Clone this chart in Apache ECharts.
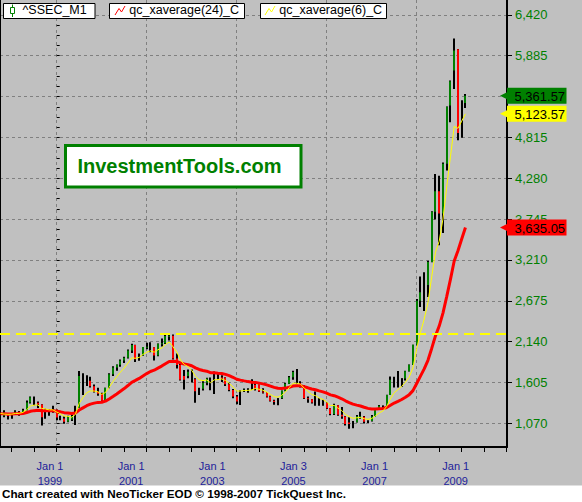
<!DOCTYPE html>
<html><head><meta charset="utf-8">
<script src="https://cdn.jsdelivr.net/npm/echarts@6/dist/echarts.min.js"></script>
<style>html,body{margin:0;padding:0;background:#fff}#c{width:582px;height:502px}</style>
</head><body><div id="c"></div>
<script>
// ---------- data ----------
const months = [
 '1997-09','1997-10','1997-11','1997-12',
 '1998-01','1998-02','1998-03','1998-04','1998-05','1998-06','1998-07','1998-08','1998-09','1998-10','1998-11','1998-12',
 '1999-01','1999-02','1999-03','1999-04','1999-05','1999-06','1999-07','1999-08','1999-09','1999-10','1999-11','1999-12',
 '2000-01','2000-02','2000-03','2000-04','2000-05','2000-06','2000-07','2000-08','2000-09','2000-10','2000-11','2000-12',
 '2001-01','2001-02','2001-03','2001-04','2001-05','2001-06','2001-07','2001-08','2001-09','2001-10','2001-11','2001-12',
 '2002-01','2002-02','2002-03','2002-04','2002-05','2002-06','2002-07','2002-08','2002-09','2002-10','2002-11','2002-12',
 '2003-01','2003-02','2003-03','2003-04','2003-05','2003-06','2003-07','2003-08','2003-09','2003-10','2003-11','2003-12',
 '2004-01','2004-02','2004-03','2004-04','2004-05','2004-06','2004-07','2004-08','2004-09','2004-10','2004-11','2004-12',
 '2005-01','2005-02','2005-03','2005-04','2005-05','2005-06','2005-07','2005-08','2005-09','2005-10','2005-11','2005-12',
 '2006-01','2006-02','2006-03','2006-04','2006-05','2006-06','2006-07','2006-08','2006-09','2006-10','2006-11','2006-12',
 '2007-01','2007-02','2007-03','2007-04','2007-05','2007-06','2007-07','2007-08','2007-09','2007-10','2007-11','2007-12',
 '2008-01'
];
const opens = [
 1150,1220,1170,1180,
 1194,1222,1206,1243,1343,1411,1339,1316,1150,1242,1217,1247,
 1144,1134,1090,1158,1120,1279,1689,1601,1627,1556,1486,1459,
 1368,1535,1714,1800,1836,1894,1928,2023,2096,1910,1961,2070,
 2073,2065,1959,2112,2119,2214,2218,1920,1834,1642,1689,1747,
 1646,1491,1524,1603,1657,1515,1732,1653,1670,1581,1507,1421,
 1357,1499,1511,1510,1521,1576,1486,1476,1421,1367,1348,1397,
 1497,1590,1675,1741,1595,1555,1399,1386,1342,1396,1320,1340,
 1266,1191,1306,1181,1159,1060,1080,1083,1162,1155,1092,1099,
 1161,1258,1299,1298,1440,1641,1672,1612,1658,1752,1837,2099,
 2675,2786,2881,3183,3841,4109,3820,4471,5234,5692,5970,4868,
 5265
];
const highs = [
 1215,1240,1190,1200,
 1240,1232,1262,1370,1421,1423,1355,1320,1260,1253,1300,1250,
 1170,1160,1170,1180,1300,1756,1725,1700,1680,1580,1535,1470,
 1535,1725,1818,1839,1905,1941,2038,2114,2100,1985,2071,2125,
 2132,2067,2117,2180,2232,2245,2233,1985,1860,1770,1776,1776,
 1660,1537,1620,1666,1670,1748,1740,1700,1672,1600,1520,1440,
 1500,1525,1530,1649,1600,1580,1530,1480,1430,1380,1400,1500,
 1600,1690,1760,1783,1620,1570,1420,1390,1488,1400,1380,1345,
 1270,1327,1310,1285,1165,1150,1100,1180,1223,1165,1110,1180,
 1260,1310,1305,1445,1685,1680,1757,1660,1760,1840,2100,2698,
 2994,3049,3200,3849,4335,4312,4486,5219,5562,6110,5972,5303,
 5385
];
const lows = [
 1125,1150,1120,1130,
 1180,1170,1195,1240,1330,1306,1270,1043,1130,1170,1210,1110,
 1110,1064,1085,1100,1048,1275,1440,1560,1540,1475,1430,1341,
 1361,1530,1690,1760,1810,1860,1920,1990,1875,1890,1955,2040,
 2000,1893,1950,2075,2110,2155,1907,1788,1630,1514,1660,1606,
 1339,1440,1500,1570,1502,1455,1640,1610,1560,1490,1400,1320,
 1311,1480,1470,1505,1500,1480,1460,1410,1355,1315,1307,1390,
 1490,1585,1640,1590,1540,1390,1340,1329,1300,1300,1300,1259,
 1177,1180,1170,1130,1043,998,1004,1080,1130,1067,1074,1095,
 1160,1255,1260,1296,1440,1540,1540,1550,1630,1750,1835,2090,
 2593,2541,2724,3180,3740,3404,3563,4381,5015,5450,4778,4812,
 5201
];
const closes = [
 1200,1170,1180,1194,
 1222,1206,1243,1343,1411,1339,1316,1150,1242,1217,1247,1146,
 1134,1090,1158,1120,1279,1689,1601,1627,1556,1486,1459,1366,
 1535,1714,1800,1836,1894,1928,2023,2096,1910,1961,2070,2073,
 2065,1959,2112,2119,2214,2218,1920,1834,1642,1689,1747,1646,
 1491,1524,1603,1657,1515,1732,1653,1670,1581,1507,1421,1357,
 1499,1511,1510,1521,1576,1486,1476,1421,1367,1348,1397,1497,
 1590,1675,1741,1595,1555,1399,1386,1342,1396,1320,1340,1266,
 1191,1306,1181,1159,1060,1080,1083,1162,1155,1092,1099,1161,
 1258,1299,1298,1440,1641,1672,1612,1658,1752,1837,2099,2675,
 2786,2881,3183,3841,4109,3820,4471,5218,5552,5954.77,4871.78,5261.56,
 5361.57
];
const xavg24 = [
 1196.0,1193.9,1192.8,1192.9,
 1195.2,1196.1,1199.9,1211.3,1227.3,1236.2,1242.6,1235.2,1235.7,1234.2,1235.2,1228.1,
 1220.5,1210.1,1205.9,1199.0,1205.4,1244.1,1272.6,1300.9,1321.3,1334.5,1344.4,1346.1,
 1361.0,1389.2,1422.1,1455.2,1490.3,1525.3,1565.1,1607.6,1631.8,1658.1,1691.1,1721.7,
 1749.2,1766.0,1793.7,1819.7,1851.2,1880.5,1883.7,1879.7,1860.7,1847.0,1839.0,1823.6,
 1797.0,1775.2,1761.4,1753.0,1734.0,1733.8,1727.3,1722.7,1711.4,1695.0,1673.1,1647.8,
 1635.9,1625.9,1616.6,1609.0,1606.4,1596.8,1587.1,1573.8,1557.3,1540.6,1529.1,1526.5,
 1531.6,1543.1,1558.9,1561.8,1561.3,1548.3,1535.3,1519.8,1509.9,1494.7,1482.3,1465.0,
 1443.1,1432.1,1412.0,1391.8,1365.3,1342.5,1321.7,1308.9,1296.6,1280.2,1265.7,1257.3,
 1257.4,1260.7,1263.7,1277.8,1306.9,1336.1,1358.2,1382.2,1411.8,1445.8,1498.1,1592.3,
 1687.8,1783.3,1895.3,2051.0,2215.6,2344.0,2514.2,2730.5,2956.2,3196.0,3330.0,3484.5,
 3635.05
];
const xavg6 = [
 1200.0,1191.4,1188.1,1189.8,
 1199.0,1201.0,1213.0,1250.1,1296.1,1308.4,1310.6,1264.7,1258.2,1246.4,1246.6,1217.9,
 1193.9,1164.2,1162.4,1150.3,1187.1,1330.5,1407.8,1470.4,1494.9,1492.4,1482.9,1449.5,
 1473.9,1542.5,1616.1,1678.9,1740.4,1794.0,1859.4,1927.0,1922.1,1933.2,1972.3,2001.1,
 2019.4,2002.1,2033.5,2057.9,2102.5,2135.5,2073.9,2005.4,1901.6,1840.9,1814.1,1766.1,
 1687.5,1640.8,1630.0,1637.7,1602.6,1639.6,1643.4,1651.0,1631.0,1595.6,1545.7,1491.8,
 1493.9,1498.8,1502.0,1507.4,1527.0,1515.3,1504.1,1480.4,1448.0,1419.4,1413.0,1437.0,
 1480.7,1536.2,1594.7,1594.8,1583.4,1530.7,1489.4,1447.3,1432.6,1400.4,1383.1,1349.6,
 1304.3,1304.8,1269.4,1237.9,1187.1,1156.5,1135.5,1143.1,1146.5,1130.9,1121.8,1133.0,
 1168.7,1205.9,1232.2,1291.6,1391.4,1471.6,1511.7,1553.5,1610.2,1675.0,1796.1,2047.2,
 2258.3,2436.2,2649.6,2990.0,3309.7,3455.5,3745.6,4166.3,4562.2,4959.9,4934.5,5027.8,
 5123.57
];
const priceTicks = [1070,1605,2140,2675,3210,3745,4280,4815,5350,5885,6420];
const yearTicks = [1999,2001,2003,2005,2007,2009];
const yearTickLabels = ['Jan 1\n1999','Jan 1\n2001','Jan 1\n2003','Jan 3\n2005','Jan 1\n2007','Jan 1\n2009'];
const priorHigh = 2245.44;
const seriesNames = ['^SSEC_M1','qc_xaverage(24)_C','qc_xaverage(6)_C'];
const watermark = 'InvestmentTools.com';
const footer = 'Chart created with NeoTicker EOD \u00A9 1998-2007 TickQuest Inc.';

// ---------- layout / style ----------
const FONT = '"Liberation Sans", Arial, sans-serif';
const GREEN = '#008000', RED = '#FF0000', YELLOW = '#FFFF00', GRIDC = '#808080';
const X_MIN = -15.12, X_MAX = 120.08;     // months from Jan 1999
const Y_MIN = 760, Y_MAX = 6615;
const LBL_MIN = 1997.768, LBL_MAX = 2010.264;

function monthPos(s) { const p = s.split('-').map(Number); return (p[0] - 1999) * 12 + p[1]; }
const xs = months.map(monthPos);

const lastClose = closes[closes.length - 1];
const halfYearTicks = []; for (let v = -12; v <= 120; v += 6) halfYearTicks.push(v);
const gridMonths = [0, 24, 48, 72, 96];
const minorStep = (priceTicks[1] - priceTicks[0]) / 4;
const minorTicks = []; for (let v = priceTicks[0] - 2 * minorStep; v < Y_MAX; v += minorStep) minorTicks.push(v);
// the label that sits fully under the last-price tag is hidden, as in the reference
const labelTicks = priceTicks.filter(v => Math.abs(v - lastClose) > 60);

function fmt(v, d) { return v.toLocaleString('en-US', {minimumFractionDigits: d, maximumFractionDigits: d}); }

const chart = echarts.init(document.getElementById('c'), null, {renderer: 'svg'});

const option = {
  animation: false,
  backgroundColor: '#C0C0C0',
  grid: {left: 0, right: 75, top: 0, bottom: 55, containLabel: false},
  xAxis: [
    { type: 'value', min: X_MIN, max: X_MAX, position: 'bottom',
      axisLine: {show: true, onZero: false, lineStyle: {color: '#000', width: 2}},
      axisTick: {show: true, customValues: halfYearTicks, length: 5, lineStyle: {color: '#000', width: 1}},
      axisLabel: {show: false}, splitLine: {show: false} },
    { type: 'value', min: LBL_MIN, max: LBL_MAX, position: 'bottom',
      axisLine: {show: false}, axisTick: {show: false}, splitLine: {show: false},
      axisLabel: {show: true, customValues: yearTicks, margin: 11, color: '#22229A', fontSize: 11,
        lineHeight: 15, fontFamily: FONT,
        formatter: v => yearTickLabels[yearTicks.indexOf(v)]} },
    { type: 'value', min: X_MIN, max: X_MAX, position: 'bottom',
      axisLine: {show: false}, axisLabel: {show: false},
      axisTick: {show: false, customValues: gridMonths},
      splitLine: {show: true, lineStyle: {color: GRIDC, width: 1, type: [3, 3]}} }
  ],
  yAxis: [
    { type: 'value', min: Y_MIN, max: Y_MAX, position: 'right',
      axisLine: {show: true, onZero: false, lineStyle: {color: '#000', width: 2}},
      axisTick: {show: true, customValues: priceTicks, length: 5, lineStyle: {color: '#000'}},
      axisLabel: {show: true, customValues: labelTicks, margin: 8, color: GREEN, fontSize: 13, fontFamily: FONT,
        formatter: v => fmt(v, 0)},
      splitLine: {show: true, lineStyle: {color: GRIDC, width: 1, type: [3, 3]}} },
    { type: 'value', min: Y_MIN, max: Y_MAX, position: 'right',
      axisLine: {show: false}, axisLabel: {show: false}, splitLine: {show: false},
      axisTick: {show: true, customValues: minorTicks, length: 3, lineStyle: {color: '#000'}} },
    { type: 'value', min: Y_MIN, max: Y_MAX, position: 'left',
      axisLine: {show: true, onZero: false, lineStyle: {color: '#000', width: 1}},
      axisTick: {show: false}, axisLabel: {show: false}, splitLine: {show: false} }
  ],
  series: [
    { name: seriesNames[0], type: 'custom', xAxisIndex: 0, yAxisIndex: 0, clip: true,
      data: months.map((m, i) => [xs[i], opens[i], highs[i], lows[i], closes[i]]),
      encode: {x: 0, y: [1, 2, 3, 4]},
      renderItem: (params, api) => {
        const i = params.dataIndex;
        const x = api.value(0);
        const pH = api.coord([x, api.value(2)]);
        const pL = api.coord([x, api.value(3)]);
        const pO = api.coord([x, api.value(1)]);
        const pC = api.coord([x, api.value(4)]);
        let col = '#000';
        if (i > 0) {
          if (highs[i] > highs[i - 1] && lows[i] > lows[i - 1]) col = GREEN;
          else if (highs[i] < highs[i - 1] && lows[i] < lows[i - 1]) col = RED;
        }
        const cx = Math.round(pH[0]) - 1;
        const top = Math.min(pO[1], pC[1]);
        return {type: 'group', children: [
          {type: 'rect', shape: {x: cx, y: pH[1], width: 2, height: pL[1] - pH[1]}, style: {fill: '#000'}},
          {type: 'rect', shape: {x: cx, y: top, width: 2, height: Math.max(1, Math.abs(pC[1] - pO[1]))}, style: {fill: col}}
        ]};
      },
      markLine: { silent: true, symbol: ['none', 'none'], label: {show: false},
        lineStyle: {color: YELLOW, width: 2, type: [10, 6]},
        data: [{yAxis: priorHigh}] }
    },
    { name: seriesNames[1], type: 'line', xAxisIndex: 0, yAxisIndex: 0, showSymbol: false, symbol: 'none',
      data: months.map((m, i) => [xs[i], xavg24[i]]),
      lineStyle: {color: RED, width: 3}, itemStyle: {color: RED} },
    { name: seriesNames[2], type: 'line', xAxisIndex: 0, yAxisIndex: 0, showSymbol: false, symbol: 'none',
      data: months.map((m, i) => [xs[i], xavg6[i]]),
      lineStyle: {color: YELLOW, width: 1}, itemStyle: {color: YELLOW} }
  ]
};
chart.setOption(option);

// ---------- overlays: legend boxes, watermark, footer, value tags ----------
const Z = 100;
function legendBox(x0, w, iconEls, name, tx) {
  return {type: 'group', children: [
    {type: 'rect', z: Z, shape: {x: x0, y: 3.5, width: w, height: 15}, style: {fill: '#fff', stroke: '#000', lineWidth: 1}},
    ...iconEls,
    {type: 'text', z: Z + 2, x: tx, y: 10.3, style: {text: name, fill: '#000', font: '12.5px ' + FONT, align: 'left', verticalAlign: 'middle'}}
  ]};
}
const g = [];
g.push(legendBox(3.5, 91.5, [
  {type: 'line', z: Z + 1, shape: {x1: 12.5, y1: 4.5, x2: 12.5, y2: 17}, style: {stroke: GREEN, lineWidth: 1}},
  {type: 'rect', z: Z + 1, shape: {x: 10.5, y: 7.5, width: 4, height: 6}, style: {fill: '#fff', stroke: GREEN, lineWidth: 1}}
], seriesNames[0], 22.5));
g.push(legendBox(109.5, 135, [
  {type: 'polyline', z: Z + 1, shape: {points: [[115, 15], [119, 8.5], [121.5, 12], [125, 6]]}, style: {stroke: RED, lineWidth: 1, fill: null}}
], seriesNames[1], 129.3));
g.push(legendBox(260.5, 126, [
  {type: 'polyline', z: Z + 1, shape: {points: [[265, 15], [269, 8.5], [271.5, 12], [275, 6]]}, style: {stroke: YELLOW, lineWidth: 1, fill: null}}
], seriesNames[2], 279.3));

g.push({type: 'group', children: [
  {type: 'rect', z: Z, shape: {x: 65.5, y: 145.5, width: 235.5, height: 41.5}, style: {fill: '#fff', stroke: GREEN, lineWidth: 3}},
  {type: 'text', z: Z + 1, x: 179.5, y: 166, style: {text: watermark, fill: GREEN, font: 'bold 20px ' + FONT, align: 'center', verticalAlign: 'middle'}}
]});

g.push({type: 'group', children: [
  {type: 'rect', z: Z, shape: {x: 0, y: 485.5, width: 582, height: 17}, style: {fill: '#fff'}},
  {type: 'text', z: Z + 1, x: 2, y: 493.5, style: {text: footer, fill: '#000', font: 'bold 11.7px ' + FONT, align: 'left', verticalAlign: 'middle'}}
]});

const xr = chart.convertToPixel({xAxisIndex: 0}, X_MAX);
const tags = [
  [xavg24[xavg24.length - 1], RED],
  [xavg6[xavg6.length - 1], YELLOW],
  [lastClose, GREEN]
];
tags.forEach(([v, c], k) => {
  const y = chart.convertToPixel({yAxisIndex: 0}, v);
  g.push({type: 'group', children: [
    {type: 'polygon', z: Z + 10 + k, shape: {points: [[xr - 7, y], [xr, y - 3.5], [xr, y + 3.5]]}, style: {fill: c}},
    {type: 'rect', z: Z + 10 + k, shape: {x: xr, y: y - 8, width: 59.5, height: 16}, style: {fill: c}},
    {type: 'text', z: Z + 10 + k, x: xr + 7.5, y: y + 0.5, style: {text: fmt(v, 2), fill: '#000', font: '13px ' + FONT, align: 'left', verticalAlign: 'middle'}}
  ]});
});
chart.setOption({graphic: g});
</script>
</body></html>
